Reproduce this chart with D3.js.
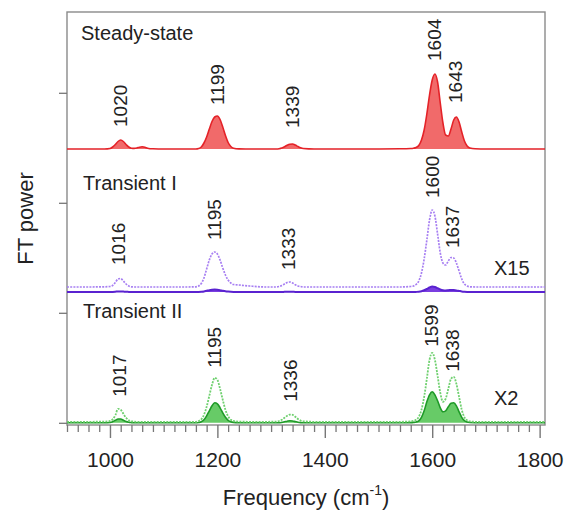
<!DOCTYPE html>
<html><head><meta charset="utf-8">
<script src="https://cdn.jsdelivr.net/npm/d3@7"></script>
<style>
html,body{margin:0;padding:0;background:#fff;}
text{font-family:"Liberation Sans",Arial,Helvetica,sans-serif;}
</style></head>
<body>
<svg id="chart" width="576" height="518"></svg>
<script>
// ---------- data ----------
const freq = [920,960,990,1000,1005,1010,1015,1020,1025,1030,
  1035,1040,1045,1050,1055,1060,1065,1070,1080,1100,
  1140,1160,1165,1170,1175,1180,1185,1190,1195,1200,
  1205,1210,1215,1220,1225,1230,1240,1260,1290,1310,
  1315,1320,1325,1330,1335,1340,1345,1350,1355,1360,
  1380,1420,1480,1540,1560,1565,1570,1575,1580,1585,
  1590,1595,1600,1605,1610,1615,1620,1625,1630,1635,
  1640,1645,1650,1655,1660,1665,1670,1680,1700,1750,
  1810];

const steadyState = [0,0,0,0.05,0.2,0.45,0.75,0.9,0.75,0.45,
  0.2,0.08,0.06,0.1,0.18,0.22,0.18,0.08,0.02,0,
  0,0,0.05,0.2,0.6,1.2,2.0,2.75,3.2,3.3,
  2.95,2.2,1.35,0.65,0.25,0.08,0.01,0,0,0,
  0.03,0.1,0.22,0.38,0.48,0.5,0.4,0.25,0.12,0.05,
  0,0,0,0.02,0.05,0.08,0.15,0.35,0.9,1.9,
  3.5,5.4,6.9,7.5,6.7,4.6,2.6,1.4,1.3,2.0,
  2.9,3.2,2.7,1.7,0.8,0.3,0.1,0.02,0,0,
  0];

const transient1 = [0,0,0,0,0.01,0.03,0.06,0.06,0.04,0.02,
  0.01,0,0,0,0,0,0,0,0,0,
  0,0,0.01,0.03,0.06,0.12,0.18,0.22,0.24,0.22,
  0.18,0.12,0.07,0.04,0.02,0.01,0.01,0,0,0,
  0,0,0.02,0.03,0.03,0.02,0.01,0,0,0,
  0,0,0,0,0,0,0.01,0.03,0.08,0.17,
  0.3,0.45,0.55,0.5,0.38,0.25,0.18,0.16,0.18,0.2,
  0.19,0.16,0.11,0.06,0.03,0.01,0,0,0,0,
  0];

const transient1x15 = [0.5,0.5,0.52,0.55,0.65,0.95,1.3,1.35,1.1,0.8,
  0.6,0.52,0.5,0.5,0.5,0.5,0.5,0.5,0.5,0.5,
  0.5,0.52,0.6,0.85,1.4,2.3,3.2,3.8,4.0,3.8,
  3.2,2.4,1.7,1.2,0.9,0.75,0.7,0.6,0.5,0.5,
  0.55,0.65,0.8,0.95,1.0,0.9,0.72,0.6,0.55,0.5,
  0.5,0.5,0.5,0.5,0.55,0.6,0.75,1.1,1.9,3.3,
  5.2,7.2,8.2,7.6,5.8,3.9,2.9,2.7,3.1,3.45,
  3.4,2.9,2.1,1.3,0.8,0.6,0.52,0.5,0.5,0.5,
  0.5];

const transient2 = [0,0,0,0.03,0.1,0.25,0.38,0.38,0.25,0.12,
  0.05,0.02,0,0,0,0,0,0,0,0,
  0,0,0.03,0.1,0.3,0.7,1.2,1.7,2.0,1.9,
  1.5,1.0,0.55,0.25,0.1,0.04,0.01,0,0,0,
  0,0.04,0.1,0.16,0.2,0.18,0.12,0.06,0.02,0,
  0,0,0,0,0.02,0.04,0.08,0.2,0.55,1.2,
  2.1,2.8,3.1,2.8,2.2,1.5,1.1,1.2,1.6,1.95,
  2.0,1.7,1.1,0.55,0.22,0.08,0.03,0.01,0,0,
  0];

const transient2x2 = [0.1,0.1,0.12,0.18,0.35,0.75,1.4,1.3,0.9,0.5,
  0.25,0.15,0.12,0.1,0.1,0.1,0.1,0.1,0.1,0.1,
  0.1,0.1,0.18,0.35,0.8,1.6,2.7,3.8,4.5,4.3,
  3.4,2.3,1.3,0.65,0.3,0.18,0.12,0.1,0.1,0.12,
  0.18,0.3,0.5,0.7,0.82,0.8,0.6,0.38,0.22,0.15,
  0.1,0.1,0.1,0.1,0.14,0.2,0.3,0.6,1.3,2.6,
  4.4,6.3,7.0,6.3,4.7,3.0,2.1,2.4,3.4,4.4,
  4.6,3.9,2.6,1.3,0.55,0.25,0.14,0.1,0.1,0.1,
  0.1];

// vertical offsets of each stacked spectrum (a.u.)
const panelNames = ["Steady-state", "Transient I", "Transient II"];
const panelOffsets = [27.38, 13.08, 0];
const scaleNotes = ["", "X15", "X2"];

// peak labels and the level (a.u. above each baseline) where they sit
const steadyPeaks = [1020, 1199, 1339, 1604, 1643];
const steadyLabelLevel = [2.2, 4.4, 2.1, 8.8, 4.6];
const t1Peaks = [1016, 1195, 1333, 1600, 1637];
const t1LabelLevel = [2.7, 5.2, 2.2, 9.4, 4.4];
const t2Peaks = [1017, 1195, 1336, 1599, 1638];
const t2LabelLevel = [2.6, 5.5, 2.1, 7.6, 5.1];

const xTicks = [1000, 1200, 1400, 1600, 1800];
const yTicks = [0, 11, 22, 33];
const xDomain = [920, 1810];
const yDomain = [-0.22, 41.08];

// ---------- drawing ----------
const svg = d3.select("#chart");
const L = 67, R = 545, T = 12, B = 425;
const x = d3.scaleLinear().domain(xDomain).range([L, R]);
const y = d3.scaleLinear().domain(yDomain).range([B, T]);

const font = '"Liberation Sans",Arial,Helvetica,sans-serif';

function drawSeries(vals, offset, opt) {
  const pts = freq.map((f, i) => [f, vals[i]]);
  if (opt.fill) {
    const area = d3.area().curve(d3.curveMonotoneX)
      .x(d => x(d[0])).y0(y(offset)).y1(d => y(offset + d[1]));
    svg.append("path").datum(pts).attr("d", area)
      .attr("fill", opt.fill).attr("fill-opacity", opt.fillOpacity || 1);
  }
  const line = d3.line().curve(d3.curveMonotoneX)
    .x(d => x(d[0])).y(d => y(offset + d[1]));
  const p = svg.append("path").datum(pts).attr("d", line)
    .attr("fill", "none").attr("stroke", opt.stroke)
    .attr("stroke-width", opt.width || 1.5)
    .attr("stroke-linejoin", "round");
  if (opt.dash) p.attr("stroke-dasharray", opt.dash);
}

// frame
svg.append("rect").attr("x", L).attr("y", T).attr("width", R - L).attr("height", B - T)
  .attr("fill", "none").attr("stroke", "#8a8a8a").attr("stroke-width", 1.4);

// x axis ticks (minor every 20)
const minor = d3.range(920, 1811, 20).filter(v => !xTicks.includes(v));
svg.append("g").attr("transform", `translate(0,${B})`)
  .call(d3.axisBottom(x).tickValues(minor).tickSize(7).tickFormat(""))
  .call(g => g.select(".domain").remove())
  .call(g => g.selectAll("line").attr("stroke", "#777").attr("stroke-width", 1.3));
svg.append("g").attr("transform", `translate(0,${B})`)
  .call(d3.axisBottom(x).tickValues(xTicks).tickSize(13).tickPadding(14).tickFormat(d3.format("d")))
  .call(g => g.select(".domain").remove())
  .call(g => g.selectAll("line").attr("stroke", "#777").attr("stroke-width", 1.4))
  .call(g => g.selectAll("text").attr("font-size", 21).attr("font-family", font).attr("fill", "#222"));

// y axis ticks (unlabelled)
svg.append("g").attr("transform", `translate(${L},0)`)
  .call(d3.axisLeft(y).tickValues(yTicks).tickSize(8).tickFormat(""))
  .call(g => g.select(".domain").remove())
  .call(g => g.selectAll("line").attr("stroke", "#777").attr("stroke-width", 1.3));

// spectra
// Transient II
drawSeries(transient2, panelOffsets[2], {fill: "#4cc24c", fillOpacity: 0.85, stroke: "#1f9a28", width: 1.6});
drawSeries(transient2x2, panelOffsets[2], {stroke: "#6fd06f", width: 1.8, dash: "2,1.2"});
// Transient I
drawSeries(transient1, panelOffsets[1], {fill: "#7a3ee0", stroke: "#5a22d0", width: 2});
drawSeries(transient1x15, panelOffsets[1], {stroke: "#a77ff2", width: 1.7, dash: "2,1.2"});
// Steady-state
drawSeries(steadyState, panelOffsets[0], {fill: "#f05a5a", fillOpacity: 0.9, stroke: "#e42228", width: 1.6});

// peak labels
function peakLabels(peaks, levels, offset) {
  svg.append("g").selectAll("text").data(peaks).join("text")
    .attr("transform", (d, i) => `translate(${x(d)},${y(offset + levels[i])}) rotate(-90)`)
    .attr("dy", "0.35em").attr("text-anchor", "start")
    .attr("font-size", 19).attr("font-family", font).attr("fill", "#222")
    .text(d => d);
}
peakLabels(steadyPeaks, steadyLabelLevel, panelOffsets[0]);
peakLabels(t1Peaks, t1LabelLevel, panelOffsets[1]);
peakLabels(t2Peaks, t2LabelLevel, panelOffsets[2]);

// panel titles
const titleY = [40, 190, 318];
panelNames.forEach((n, i) => {
  svg.append("text").attr("x", i === 0 ? 81 : 83).attr("y", titleY[i])
    .attr("font-size", 20).attr("font-family", font).attr("fill", "#222").text(n);
});
const noteY = [0, 275, 405];
scaleNotes.forEach((n, i) => {
  if (!n) return;
  svg.append("text").attr("x", 494).attr("y", noteY[i])
    .attr("font-size", 20).attr("font-family", font).attr("fill", "#222").text(n);
});

// axis titles
const xt = svg.append("text").attr("x", (L + R) / 2).attr("y", 505).attr("text-anchor", "middle")
  .attr("font-size", 22).attr("font-family", font).attr("fill", "#222");
xt.append("tspan").text("Frequency (cm");
xt.append("tspan").attr("dy", -10).attr("font-size", 14).text("-1");
xt.append("tspan").attr("dy", 10).text(")");

svg.append("text").attr("transform", `translate(33,${(T + B) / 2}) rotate(-90)`)
  .attr("text-anchor", "middle").attr("font-size", 22).attr("font-family", font).attr("fill", "#222")
  .text("FT power");
</script>
</body></html>
